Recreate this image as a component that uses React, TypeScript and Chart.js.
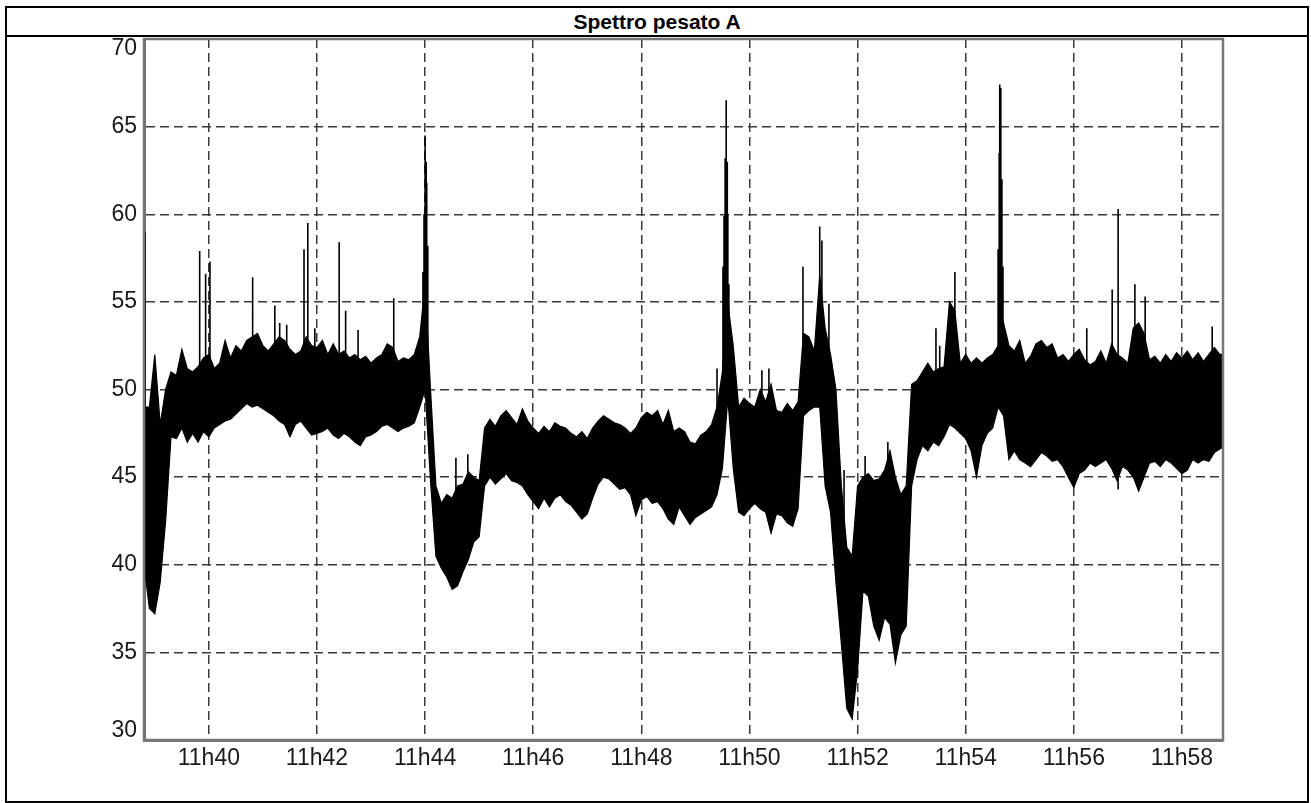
import React, { useEffect, useRef } from "react";
import { Chart, registerables } from "chart.js";

Chart.register(...registerables);

const chartTitle = "Spettro pesato A";

// time axis (minutes after 11h00)
const xMinMinutes = 38.8;
const xMaxMinutes = 58.76;
const xTickMinutes = [40, 42, 44, 46, 48, 50, 52, 54, 56, 58];
const yTickValues = [30, 35, 40, 45, 50, 55, 60, 65, 70];

// band envelope sampled every 6 s from 11h38m48s
const sampleStartMin = 38.8;
const sampleStepMin = 0.1;

const bandHigh = [
  49.0, 49.0, 52.0, 48.0, 50.0, 51.0, 50.8, 52.3, 51.2, 51.0,
  51.3, 51.8, 52.0, 51.2, 51.5, 52.8, 51.8, 52.5, 52.2, 52.8,
  53.0, 53.2, 52.5, 52.2, 52.6, 53.0, 52.8, 52.3, 52.0, 52.2,
  53.0, 52.5, 52.4, 52.8, 52.0, 52.6, 52.0, 52.2, 51.8, 52.0,
  51.7, 51.9, 51.5, 51.8, 52.0, 52.6, 52.4, 51.6, 51.8, 51.7,
  52.0, 53.0, 56.0, 50.0, 44.5, 43.5, 44.0, 43.8, 44.5, 44.6,
  45.3, 45.0, 44.8, 47.8, 48.3, 47.9, 48.5, 48.8, 48.4, 48.0,
  48.9, 48.2, 47.8, 47.5, 47.9, 47.6, 48.1, 47.9, 47.8, 47.5,
  47.3, 47.6, 47.2, 47.8, 48.2, 48.5, 48.3, 48.1, 48.0, 47.8,
  47.5, 47.8, 48.4, 48.7, 48.5, 48.8, 48.0, 48.8, 47.6, 47.8,
  47.6, 47.0, 46.9, 47.4, 47.6, 48.0, 49.0, 51.0, 54.9, 52.5,
  49.0, 49.5, 49.2, 49.0, 50.0, 49.3, 50.3, 48.8, 48.7, 49.2,
  48.8, 49.3, 53.2, 53.0, 52.2, 56.5, 53.5, 52.0, 50.0, 44.5,
  41.0, 40.5, 44.5, 45.0, 45.2, 44.8, 44.9, 45.4, 46.5, 45.0,
  44.0, 44.5, 50.3, 50.5, 51.0, 51.5, 51.0, 51.2, 51.3, 55.0,
  54.5, 51.5, 52.0, 51.5, 51.8, 51.5, 51.8, 52.0, 52.5, 53.8,
  52.5, 52.2, 52.8, 51.5, 51.9, 52.6, 52.8, 52.4, 52.6, 51.8,
  52.0, 51.6, 52.0, 52.3, 51.7, 51.4, 51.6, 52.2, 51.5, 52.6,
  52.0, 51.8, 51.5, 53.5, 53.8, 53.2, 51.7, 51.9, 51.5, 52.0,
  51.6, 52.1, 51.8, 52.2, 51.7, 52.1, 51.6, 52.0, 52.4, 52.0,
  52.0,
];

const bandLow = [
  40.0, 37.5, 37.2, 39.0, 42.5, 47.3, 47.2, 47.8, 47.0, 47.5,
  47.0, 47.6, 47.3, 47.8, 48.0, 48.2, 48.3, 48.6, 48.9, 49.2,
  49.0, 49.1, 48.9, 48.7, 48.5, 48.2, 48.0, 47.3, 48.0, 48.2,
  47.8, 47.4, 47.5, 47.6, 47.8, 47.4, 47.2, 47.5, 47.3, 47.0,
  46.8, 47.3, 47.4, 47.6, 47.9, 48.0, 47.8, 47.6, 47.8, 47.9,
  48.1, 49.0, 50.0, 44.8, 40.5, 39.8, 39.3, 38.6, 38.8, 39.6,
  40.3, 41.3, 41.6, 44.5, 45.0, 44.6, 44.9, 45.2, 44.8, 44.7,
  44.5, 44.0, 43.6, 43.2, 43.8, 43.3, 43.8, 44.0, 43.6, 43.4,
  43.0, 42.6, 42.9, 43.8, 44.6, 45.0, 44.9, 44.6, 44.3, 44.4,
  44.0, 42.8, 43.7, 43.9, 43.5, 43.6, 43.2, 42.6, 42.3, 43.3,
  42.8, 42.3, 42.7, 42.9, 43.1, 43.3, 44.0, 45.5, 49.5, 45.5,
  43.0, 42.8, 43.2, 43.5, 43.2, 43.0, 41.8, 42.9, 42.8, 42.4,
  42.2, 43.2, 48.5, 48.8, 49.0, 49.0, 44.5, 43.0, 39.0, 35.5,
  31.8, 31.2, 34.0, 38.5, 38.2, 36.5, 35.7, 37.0, 36.6, 34.4,
  36.0, 36.5, 44.5, 46.0, 46.8, 46.5, 47.0, 46.8, 47.3, 48.0,
  47.8, 47.5, 47.2, 46.5, 45.0, 46.8, 47.5, 47.8, 49.0, 48.5,
  46.0, 46.5, 46.0, 45.8, 45.6, 46.0, 46.4, 46.2, 45.9, 46.0,
  45.6, 45.0, 44.4, 45.2, 45.4, 45.8, 45.6, 45.8, 46.0, 45.5,
  44.8, 45.6, 45.4, 45.0, 44.2, 45.0, 45.8, 45.9, 45.6, 46.0,
  45.8, 45.5, 45.2, 45.4, 46.0, 45.8, 46.0, 45.9, 46.4, 46.6,
  46.8,
];

// isolated peaks (minutes, foot, top)
const spikeTimes = [
  38.82, 39.83, 39.94, 40.02, 40.81, 41.22, 41.31, 41.44, 41.76, 41.83,
  41.96, 42.41, 42.53, 42.76, 43.42, 43.96, 43.98, 44.0, 44.02, 44.03,
  44.05, 44.57, 44.79, 49.4, 49.51, 49.53, 49.55, 49.57, 49.59, 49.6,
  49.62, 50.23, 50.36, 50.99, 51.3, 51.34, 51.47, 51.75, 52.14, 52.56,
  53.45, 53.52, 53.8, 54.6, 54.62, 54.63, 54.65, 54.67, 54.69, 56.24,
  56.71, 56.82, 57.13, 57.32, 58.56,
];
const spikeBases = [
  40, 50, 50, 50, 51, 51, 51, 51, 51, 51,
  51, 50, 50, 50, 50, 50, 50, 50, 50, 50,
  50, 42, 43, 46, 50, 50, 52, 52, 52, 50,
  49, 46, 46, 50, 50, 50, 45, 36, 42, 42,
  49, 49, 49, 52, 52, 52, 52, 52, 52, 48,
  48, 44.3, 48, 48, 48,
];
const spikeTops = [
  59.0, 57.9, 56.6, 57.3, 56.4, 54.8, 53.8, 53.7, 58.0, 59.5,
  53.5, 58.4, 54.5, 53.4, 55.2, 56.7, 60.0, 64.5, 63.0, 61.8,
  58.2, 46.1, 46.3, 51.2, 57.0, 59.9, 63.2, 66.5, 63.0, 60.0,
  56.0, 51.1, 51.2, 57.0, 59.3, 58.5, 54.9, 45.4, 46.2, 47.0,
  53.5, 52.5, 56.7, 58.0, 63.5, 67.4, 67.2, 62.0, 57.0, 53.5,
  55.7, 60.3, 56.0, 55.3, 53.6,
];

const FONT = 'Arial, "Liberation Sans", sans-serif';

const framePlugin = {
  id: "frame",
  afterDraw(chart: any) {
    const { ctx, chartArea } = chart;
    ctx.save();
    ctx.strokeStyle = "#777";
    ctx.lineWidth = 2.5;
    ctx.strokeRect(chartArea.left, chartArea.top, chartArea.right - chartArea.left, chartArea.bottom - chartArea.top);
    ctx.restore();
  },
};

export default function App() {
  const ref = useRef<HTMLCanvasElement>(null);

  useEffect(() => {
    const times = bandHigh.map((_, i) => sampleStartMin + i * sampleStepMin);
    const highData = times.map((t, i) => ({ x: t, y: bandHigh[i] }));
    const lowData = times.map((t, i) => ({ x: t, y: bandLow[i] }));
    const spikeData: any[] = [];
    spikeTimes.forEach((t, i) => {
      spikeData.push({ x: t, y: spikeBases[i] });
      spikeData.push({ x: t, y: spikeTops[i] });
      spikeData.push({ x: t, y: null });
    });

    const chart = new Chart(ref.current as HTMLCanvasElement, {
      type: "line",
      data: {
        datasets: [
          {
            data: highData,
            borderColor: "#000",
            borderWidth: 1.2,
            backgroundColor: "#000",
            fill: "+1",
            pointRadius: 0,
            tension: 0,
          },
          {
            data: lowData,
            borderColor: "#000",
            borderWidth: 1.2,
            backgroundColor: "#000",
            fill: false,
            pointRadius: 0,
            tension: 0,
          },
          {
            data: spikeData,
            borderColor: "#000",
            borderWidth: 1.6,
            fill: false,
            pointRadius: 0,
            spanGaps: false,
            tension: 0,
          },
        ],
      },
      options: {
        animation: false,
        responsive: true,
        maintainAspectRatio: false,
        layout: { padding: { top: 2, right: 84, left: 0, bottom: 0 } },
        plugins: { legend: { display: false }, tooltip: { enabled: false }, title: { display: false } },
        scales: {
          x: {
            type: "linear",
            min: xMinMinutes,
            max: xMaxMinutes,
            offset: false,
            afterBuildTicks: (scale: any) => {
              scale.ticks = xTickMinutes.map((v) => ({ value: v }));
            },
            afterFit: (scale: any) => {
              scale.height = 61;
              scale.paddingLeft = 0;
              scale.paddingRight = 0;
            },
            grid: { color: "#3a3a3a", lineWidth: 1.5, drawTicks: false },
            border: { display: true, color: "#777", width: 3, dash: [9, 5] },
            ticks: {
              autoSkip: false,
              maxRotation: 0,
              padding: 5,
              color: "#1a1a1a",
              font: { family: FONT, size: 23 },
              callback: (v: any) => "11h" + String(v).padStart(2, "0"),
            },
          },
          y: {
            type: "linear",
            min: 30,
            max: 70,
            afterBuildTicks: (scale: any) => {
              scale.ticks = yTickValues.map((v) => ({ value: v }));
            },
            afterFit: (scale: any) => {
              scale.width = 137;
              scale.paddingTop = 0;
              scale.paddingBottom = 0;
            },
            grid: { color: "#3a3a3a", lineWidth: 1.5, drawTicks: false },
            border: { display: true, color: "#666", width: 3, dash: [9, 5] },
            ticks: {
              padding: 7,
              color: "#1a1a1a",
              font: { family: FONT, size: 23, lineHeight: 0.81 },
              callback: (v: any) => (v === 70 ? ["", "70"] : v === 30 ? ["30", ""] : String(v)),
            },
          },
        },
      },
      plugins: [framePlugin],
    } as any);
    return () => chart.destroy();
  }, []);

  return (
    <div
      style={{
        position: "absolute",
        left: 5,
        top: 6,
        width: 1304,
        height: 797,
        border: "2px solid #000",
        boxSizing: "border-box",
        background: "#fff",
      }}
    >
      <div
        style={{
          height: 27,
          borderBottom: "2px solid #000",
          display: "flex",
          alignItems: "center",
          justifyContent: "center",
          fontFamily: FONT,
          fontWeight: "bold",
          fontSize: 21,
          color: "#000",
        }}
      >
        {chartTitle}
      </div>
      <div style={{ position: "relative", width: 1300, height: 764 }}>
        <canvas ref={ref} />
      </div>
    </div>
  );
}
